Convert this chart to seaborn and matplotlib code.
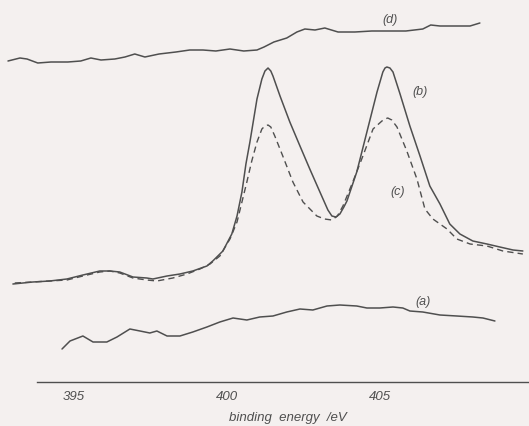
import matplotlib
matplotlib.use("Agg")
import matplotlib.pyplot as plt
import seaborn as sns
import pandas as pd

# ---- data (binding energy in eV, intensity in arbitrary units) ----
energy_d = [392.87, 393.26, 393.49, 393.84, 394.27, 394.82, 395.24, 395.57, 395.90, 396.35,
            396.68, 397.00, 397.33, 397.79, 398.34, 398.79, 399.22, 399.64, 400.10, 400.55,
            400.98, 401.21, 401.53, 401.95, 402.28, 402.54, 402.87, 403.19, 403.62, 404.17,
            404.72, 405.28, 405.83, 406.38, 406.64, 406.94, 407.49, 407.92, 408.24]
intens_d = [321, 324, 323, 319, 320, 320, 321, 324, 322, 323,
            325, 328, 325, 328, 330, 332, 332, 331, 333, 331,
            332, 335, 340, 344, 350, 353, 352, 354, 350, 350,
            351, 351, 351, 353, 357, 356, 356, 356, 359]

energy_b = [393.03, 393.68, 394.23, 394.79, 395.31, 395.86, 396.19, 396.51, 396.94, 397.39,
            397.59, 398.05, 398.47, 398.89, 399.35, 399.54, 399.87, 400.16, 400.33, 400.49,
            400.62, 400.75, 400.98, 401.14, 401.24, 401.34, 401.43, 401.50, 401.73, 402.05,
            402.38, 402.70, 403.03, 403.16, 403.29, 403.42, 403.55, 403.68, 403.81, 403.91,
            404.23, 404.56, 404.89, 405.08, 405.15, 405.21, 405.31, 405.41, 405.64, 405.96,
            406.29, 406.61, 406.94, 407.26, 407.59, 408.01, 408.47, 408.89, 409.32, 409.64]
intens_b = [98, 100, 101, 103, 107, 111, 111, 110, 105, 104,
            103, 106, 108, 111, 116, 121, 131, 148, 166, 190,
            218, 240, 283, 303, 311, 314, 311, 306, 286, 260,
            236, 213, 190, 181, 172, 166, 165, 168, 175, 181,
            210, 250, 290, 310, 314, 315, 314, 310, 288, 256,
            226, 196, 178, 158, 148, 141, 138, 135, 132, 131]

energy_c = [393.09, 393.68, 394.23, 394.79, 395.31, 395.86, 396.19, 396.51, 396.94, 397.39,
            397.72, 398.24, 398.70, 399.12, 399.45, 399.77, 400.10, 400.33, 400.49, 400.65,
            400.81, 400.98, 401.14, 401.24, 401.34, 401.43, 401.56, 401.82, 402.15, 402.48,
            402.93, 403.18, 403.42, 403.60, 403.78, 404.10, 404.43, 404.76, 405.05, 405.15,
            405.24, 405.37, 405.54, 405.86, 406.19, 406.45, 406.71, 407.17, 407.49, 407.92,
            408.47, 408.99, 409.64]
intens_c = [99, 100, 101, 102, 106, 110, 111, 109, 104, 102,
            101, 104, 108, 113, 118, 126, 143, 160, 180, 200,
            221, 240, 253, 256, 257, 255, 246, 226, 200, 180,
            166, 163, 162, 166, 176, 200, 226, 253, 261, 263,
            264, 262, 255, 231, 203, 173, 163, 153, 143, 138,
            136, 131, 128]

energy_a = [394.63, 394.89, 395.31, 395.64, 396.09, 396.42, 396.84, 397.17, 397.49, 397.72,
            398.05, 398.47, 398.89, 399.35, 399.77, 400.20, 400.65, 401.07, 401.50, 401.95,
            402.38, 402.80, 403.26, 403.68, 404.23, 404.56, 404.98, 405.41, 405.73, 405.96,
            406.38, 406.94, 407.49, 408.01, 408.34, 408.73]
intens_a = [33, 41, 46, 40, 40, 45, 53, 51, 49, 51,
            46, 46, 50, 55, 60, 64, 62, 65, 66, 70,
            73, 72, 76, 77, 76, 74, 74, 75, 74, 71,
            70, 67, 66, 65, 64, 61]

curve_names = ["(a)", "(b)", "(c)", "(d)"]
label_energy = [406.38, 406.29, 405.57, 405.31]
label_intens = [81, 291, 191, 363]

tick_values = [395, 400, 405]
tick_labels = ["395", "400", "405"]
x_label = "binding  energy  /eV"

# ---- styling ----
sns.set_style("white")
plt.rcParams["font.family"] = ["Liberation Sans", "DejaVu Sans"]

ink = "#4f4f4f"
paper = "#f4f0ef"

fig = plt.figure(figsize=(5.29, 4.27), dpi=100, facecolor=paper)
ax = fig.add_axes([0, 0, 1, 1], facecolor=paper)

df_a = pd.DataFrame({"E": energy_a, "I": intens_a})
df_b = pd.DataFrame({"E": energy_b, "I": intens_b})
df_c = pd.DataFrame({"E": energy_c, "I": intens_c})
df_d = pd.DataFrame({"E": energy_d, "I": intens_d})

for df in [df_a, df_b, df_d]:
    sns.lineplot(data=df, x="E", y="I", ax=ax, color=ink, lw=1.1,
                 estimator=None, sort=False, linestyle="-")
sns.lineplot(data=df_c, x="E", y="I", ax=ax, color=ink, lw=1.0,
             estimator=None, sort=False, linestyle=(0, (4.5, 3)))

for name, xe, yi in zip(curve_names, label_energy, label_intens):
    ax.text(xe, yi, name, ha="center", va="center", fontsize=9,
            style="italic", color=ink)

ax.set_xlim(392.61, 409.84)
ax.set_ylim(-44, 383)

for s in ["top", "left", "right"]:
    ax.spines[s].set_visible(False)
ax.spines["bottom"].set_position(("data", 0))
ax.spines["bottom"].set_bounds(393.81, 409.84)
ax.spines["bottom"].set_color(ink)
ax.spines["bottom"].set_linewidth(1.0)

ax.set_xticks(tick_values)
ax.set_xticklabels(tick_labels, style="italic", fontsize=9.5, color=ink)
ax.tick_params(axis="x", direction="in", length=11, width=0.9, color=ink, pad=5.5)
ax.set_yticks([])
ax.set_ylabel("")
ax.set_xlabel(x_label, fontsize=9.5, style="italic", color=ink)
ax.xaxis.set_label_coords(0.544, 0.036)
ax.xaxis.label.set_va("top")

fig.savefig("out.png", dpi=100, facecolor=paper)
